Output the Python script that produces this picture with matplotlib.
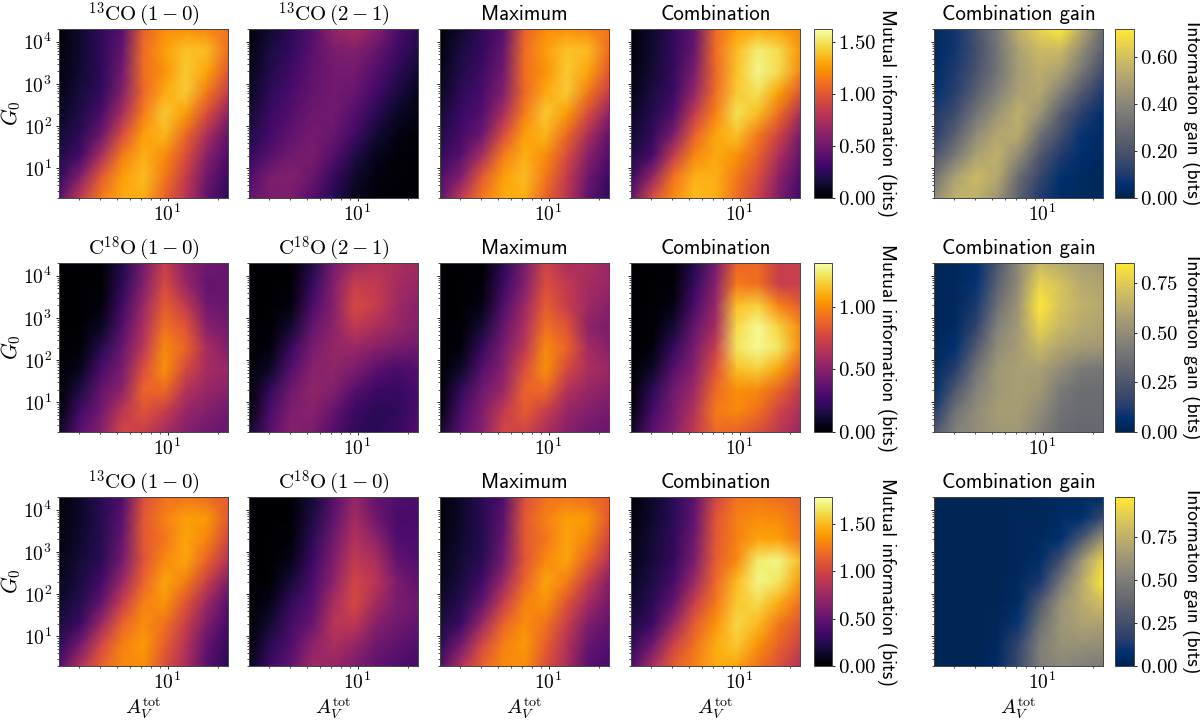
import matplotlib
matplotlib.use('Agg')
import matplotlib.pyplot as plt
from matplotlib.ticker import NullFormatter
import numpy as np

plt.rcParams['mathtext.fontset'] = 'cm'
plt.rcParams['font.family'] = ['cmr10', 'DejaVu Sans']
plt.rcParams['axes.formatter.use_mathtext'] = True

# node positions of the value grids: left to right, top to bottom
av_tot = np.geomspace(2.28, 22.8, 9)
g0 = np.geomspace(2e4, 2, 9)

# all values in bits
co13_10 = [
    [.03, .13, .27, .42, 1.05, 1.22, 1.24, 1.20, 1.12],
    [.03, .13, .25, .47, 1.10, 1.28, 1.40, 1.38, 1.10],
    [.05, .14, .25, .52, 1.10, 1.24, 1.42, 1.30, 1.00],
    [.07, .17, .27, .58, 1.08, 1.32, 1.42, 1.15, .85],
    [.10, .20, .36, .74, 1.16, 1.42, 1.27, .95, .62],
    [.14, .25, .50, .95, 1.28, 1.36, 1.08, .75, .45],
    [.20, .34, .75, 1.16, 1.34, 1.22, .95, .60, .38],
    [.28, .58, 1.02, 1.28, 1.38, 1.14, .85, .50, .30],
    [.42, .84, 1.15, 1.32, 1.34, 1.05, .80, .45, .25],
]
co13_21 = [
    [.03, .14, .25, .40, .65, .72, .60, .38, .24],
    [.05, .18, .28, .42, .55, .58, .48, .32, .20],
    [.08, .21, .32, .44, .52, .52, .40, .25, .14],
    [.10, .25, .36, .46, .52, .48, .33, .18, .08],
    [.15, .30, .40, .50, .52, .40, .24, .11, .05],
    [.20, .34, .45, .53, .48, .32, .15, .06, .03],
    [.28, .42, .52, .54, .40, .20, .08, .03, .01],
    [.38, .55, .58, .48, .28, .13, .05, .02, .01],
    [.45, .56, .55, .40, .22, .08, .03, .01, .01],
]
co13_max = [
    [.03, .14, .27, .42, 1.05, 1.22, 1.24, 1.20, 1.12],
    [.05, .18, .28, .47, 1.10, 1.28, 1.40, 1.38, 1.10],
    [.08, .21, .32, .52, 1.10, 1.24, 1.42, 1.30, 1.00],
    [.10, .25, .36, .58, 1.08, 1.32, 1.42, 1.15, .85],
    [.15, .30, .40, .74, 1.16, 1.42, 1.27, .95, .62],
    [.20, .34, .50, .95, 1.28, 1.36, 1.08, .75, .45],
    [.28, .42, .75, 1.16, 1.34, 1.22, .95, .60, .38],
    [.38, .58, 1.02, 1.28, 1.38, 1.14, .85, .50, .30],
    [.45, .84, 1.15, 1.32, 1.34, 1.05, .80, .45, .25],
]
co13_comb = [
    [.02, .13, .27, .45, 1.08, 1.28, 1.32, 1.28, 1.20],
    [.03, .14, .27, .48, 1.10, 1.38, 1.55, 1.48, 1.25],
    [.05, .15, .28, .55, 1.08, 1.40, 1.58, 1.48, 1.20],
    [.07, .18, .30, .65, 1.10, 1.42, 1.50, 1.28, 1.00],
    [.10, .22, .38, .85, 1.18, 1.50, 1.38, 1.10, .75],
    [.14, .27, .55, 1.05, 1.30, 1.40, 1.15, .90, .55],
    [.20, .35, .85, 1.20, 1.32, 1.24, 1.05, .75, .45],
    [.30, .65, 1.12, 1.34, 1.34, 1.15, .95, .62, .38],
    [.45, .95, 1.22, 1.38, 1.34, 1.10, .88, .55, .32],
]
co13_gain = [
    [.03, .08, .20, .35, .55, .66, .72, .52, .30],
    [.03, .08, .18, .33, .50, .58, .58, .42, .25],
    [.04, .10, .20, .33, .48, .54, .50, .34, .18],
    [.06, .12, .25, .38, .50, .52, .38, .22, .10],
    [.10, .17, .33, .45, .55, .45, .25, .12, .05],
    [.12, .25, .42, .52, .53, .32, .18, .07, .04],
    [.20, .35, .50, .55, .42, .22, .10, .05, .03],
    [.32, .50, .58, .52, .30, .15, .06, .03, .02],
    [.42, .55, .55, .45, .25, .10, .04, .03, .02],
]
c18o_10 = [
    [0, 0, 0, .17, .44, .72, .50, .42, .40],
    [0, 0, .01, .21, .48, .78, .55, .38, .38],
    [0, 0, .03, .27, .56, .85, .70, .42, .40],
    [0, 0, .08, .33, .62, .92, .82, .50, .43],
    [0, .02, .18, .40, .68, 1.00, .88, .60, .48],
    [0, .07, .30, .45, .80, 1.02, .78, .60, .55],
    [.01, .16, .38, .52, .88, .90, .65, .55, .50],
    [.03, .27, .43, .68, .82, .72, .55, .48, .43],
    [.10, .35, .50, .76, .72, .60, .48, .42, .38],
]
c18o_21 = [
    [0, 0, 0, .17, .44, .58, .64, .62, .58],
    [0, 0, .01, .23, .48, .72, .70, .60, .55],
    [0, 0, .04, .30, .50, .78, .72, .58, .50],
    [0, 0, .12, .38, .52, .70, .62, .55, .48],
    [0, .03, .24, .45, .54, .56, .50, .45, .42],
    [0, .10, .33, .50, .53, .46, .36, .30, .33],
    [.01, .22, .42, .53, .48, .34, .26, .24, .30],
    [.04, .30, .47, .50, .38, .25, .20, .22, .30],
    [.12, .34, .50, .46, .32, .22, .20, .24, .32],
]
c18o_max = [
    [0, 0, .01, .20, .45, .75, .62, .62, .56],
    [0, 0, .02, .25, .48, .80, .70, .60, .55],
    [0, 0, .05, .32, .56, .85, .72, .58, .50],
    [0, 0, .13, .38, .62, .92, .82, .52, .45],
    [0, .03, .24, .45, .68, 1.00, .88, .60, .50],
    [0, .10, .33, .50, .80, 1.02, .78, .62, .56],
    [.01, .22, .42, .55, .88, .90, .65, .55, .50],
    [.04, .30, .47, .70, .85, .72, .55, .48, .44],
    [.12, .35, .50, .76, .75, .62, .50, .42, .40],
]
c18o_comb = [
    [0, 0, .01, .18, .45, .88, .90, .72, .72],
    [0, 0, .02, .23, .50, .95, .92, .72, .72],
    [0, 0, .05, .30, .55, 1.15, 1.20, .98, .85],
    [0, 0, .12, .38, .60, 1.22, 1.32, 1.20, 1.00],
    [0, .03, .23, .45, .72, 1.25, 1.32, 1.25, 1.00],
    [0, .09, .33, .50, .82, 1.15, 1.20, 1.08, .85],
    [.01, .20, .42, .58, .90, 1.02, 1.00, .88, .70],
    [.03, .28, .45, .65, .95, 1.00, .92, .75, .62],
    [.10, .35, .48, .70, .90, .88, .80, .68, .56],
]
c18o_gain = [
    [.02, .03, .06, .25, .48, .68, .62, .58, .55],
    [.02, .03, .08, .30, .50, .78, .72, .62, .60],
    [.02, .03, .11, .37, .54, .85, .72, .65, .62],
    [.02, .04, .16, .45, .56, .78, .68, .62, .60],
    [.03, .07, .27, .50, .57, .68, .60, .56, .55],
    [.04, .13, .38, .55, .58, .58, .50, .42, .40],
    [.06, .25, .45, .55, .58, .55, .42, .36, .36],
    [.12, .38, .50, .57, .57, .50, .38, .35, .35],
    [.25, .45, .50, .55, .55, .45, .36, .33, .35],
]
mixed_max = [
    [.03, .13, .27, .42, 1.05, 1.22, 1.24, 1.20, 1.12],
    [.03, .13, .25, .47, 1.10, 1.28, 1.40, 1.38, 1.10],
    [.05, .14, .25, .52, 1.10, 1.24, 1.42, 1.30, 1.00],
    [.07, .17, .27, .58, 1.08, 1.32, 1.42, 1.15, .85],
    [.10, .20, .36, .74, 1.16, 1.42, 1.27, .95, .64],
    [.14, .25, .50, .95, 1.28, 1.36, 1.08, .78, .56],
    [.20, .34, .75, 1.16, 1.34, 1.22, .95, .62, .50],
    [.28, .58, 1.02, 1.28, 1.38, 1.14, .85, .52, .43],
    [.42, .84, 1.15, 1.32, 1.34, 1.05, .80, .45, .38],
]
mixed_comb = [
    [.03, .13, .27, .48, 1.00, 1.22, 1.24, 1.20, 1.15],
    [.04, .14, .27, .50, 1.08, 1.28, 1.34, 1.32, 1.20],
    [.06, .16, .28, .55, 1.10, 1.28, 1.42, 1.40, 1.24],
    [.08, .18, .30, .60, 1.12, 1.32, 1.68, 1.72, 1.50],
    [.11, .22, .38, .75, 1.18, 1.50, 1.72, 1.65, 1.38],
    [.14, .26, .50, .95, 1.25, 1.55, 1.62, 1.45, 1.22],
    [.20, .33, .72, 1.12, 1.35, 1.60, 1.50, 1.25, 1.08],
    [.28, .55, .98, 1.22, 1.45, 1.55, 1.35, 1.15, .98],
    [.40, .80, 1.12, 1.28, 1.45, 1.42, 1.22, 1.05, .85],
]
mixed_gain = [
    [.02, .02, .02, .02, .02, .03, .04, .04, .05],
    [.02, .02, .02, .02, .03, .03, .05, .08, .22],
    [.02, .02, .02, .02, .03, .04, .08, .30, .62],
    [.02, .02, .02, .02, .03, .06, .25, .62, .90],
    [.02, .02, .02, .02, .04, .12, .45, .72, .98],
    [.02, .02, .02, .02, .05, .30, .60, .72, .82],
    [.02, .02, .02, .03, .10, .42, .62, .68, .68],
    [.02, .02, .02, .04, .20, .50, .60, .60, .58],
    [.02, .02, .02, .05, .22, .50, .55, .52, .48],
]

rows = [
    [co13_10, co13_21, co13_max, co13_comb, co13_gain],
    [c18o_10, c18o_21, c18o_max, c18o_comb, c18o_gain],
    [co13_10, c18o_10, mixed_max, mixed_comb, mixed_gain],
]
titles = [
    [r'$^{13}\mathrm{CO}\,(1-0)$', r'$^{13}\mathrm{CO}\,(2-1)$', 'Maximum', 'Combination', 'Combination gain'],
    [r'$\mathrm{C}^{18}\mathrm{O}\,(1-0)$', r'$\mathrm{C}^{18}\mathrm{O}\,(2-1)$', 'Maximum', 'Combination', 'Combination gain'],
    [r'$^{13}\mathrm{CO}\,(1-0)$', r'$\mathrm{C}^{18}\mathrm{O}\,(1-0)$', 'Maximum', 'Combination', 'Combination gain'],
]
info_max = [1.63, 1.35, 1.78]
gain_max = [0.72, 0.85, 0.98]
info_ticks = [[0, .5, 1, 1.5], [0, .5, 1], [0, .5, 1, 1.5]]
gain_ticks = [[0, .2, .4, .6], [0, .25, .5, .75], [0, .25, .5, .75]]

W, H = 1200, 722
SANS = 'cmss10'
col_px = [(59, 228), (249, 418), (440, 609), (631, 800), (934, 1103)]
row_px = [(29, 198), (263, 432), (497, 666)]
cbar_px = {3: (814, 832), 4: (1115, 1134)}


def px_axes(fig, x, y):
    return fig.add_axes([x[0] / W, 1 - y[1] / H, (x[1] - x[0]) / W, (y[1] - y[0]) / H])


fig = plt.figure(figsize=(W / 100, H / 100), dpi=100)

for r, row in enumerate(rows):
    for c, values in enumerate(row):
        ax = px_axes(fig, col_px[c], row_px[r])
        cmap = 'cividis' if c == 4 else 'inferno'
        vmax = gain_max[r] if c == 4 else info_max[r]
        mesh = ax.pcolormesh(av_tot, g0, np.array(values), shading='gouraud',
                             cmap=cmap, vmin=0, vmax=vmax)
        ax.set_xscale('log')
        ax.set_yscale('log')
        ax.set_xlim(av_tot[0], av_tot[-1])
        ax.set_ylim(g0[-1], g0[0])
        ax.set_xticks([10], [r'$10^{1}$'])
        ax.xaxis.set_minor_formatter(NullFormatter())
        ax.yaxis.set_minor_formatter(NullFormatter())
        ax.set_yticks([10, 100, 1000, 10000])
        if c == 0:
            ax.set_yticklabels([r'$10^{1}$', r'$10^{2}$', r'$10^{3}$', r'$10^{4}$'])
            ax.set_ylabel(r'$G_0$', fontsize=15.5, va='center')
            ax.yaxis.set_label_coords(-0.284, 0.5)
        else:
            ax.set_yticklabels([])
        ax.tick_params(labelsize=14, length=2.5, width=0.6)
        ax.tick_params(axis='x', pad=2)
        ax.tick_params(axis='y', pad=2.5)
        ax.tick_params(which='minor', length=1.5, width=0.5)
        for spine in ax.spines.values():
            spine.set_linewidth(0.7)
            spine.set_color('#444444')
        if c >= 2:
            ax.set_title(titles[r][c], fontsize=15, family=SANS, pad=6.5)
        else:
            ax.set_title(titles[r][c], fontsize=15, pad=5)
        if r == 2:
            ax.set_xlabel(r'$A_V^{\mathrm{tot}}$', fontsize=14.5, va='center')
            ax.xaxis.set_label_coords(0.5, -0.25)

        if c >= 3:
            cax = px_axes(fig, cbar_px[c], row_px[r])
            cb = fig.colorbar(mesh, cax=cax)
            ticks = gain_ticks[r] if c == 4 else info_ticks[r]
            cb.set_ticks(ticks, labels=[f'${t:.2f}$' for t in ticks])
            cb.ax.tick_params(labelsize=15, length=2.5, width=0.6, pad=2)
            cb.outline.set_linewidth(0.7)
            cb.outline.set_edgecolor('#444444')
            label = 'Information gain (bits)' if c == 4 else 'Mutual information (bits)'
            cb.set_label(label, rotation=270, fontsize=14, family=SANS, va='center')
            cb.ax.yaxis.set_label_coords(4.05, 0.5)

fig.savefig('out.png', dpi=100)
